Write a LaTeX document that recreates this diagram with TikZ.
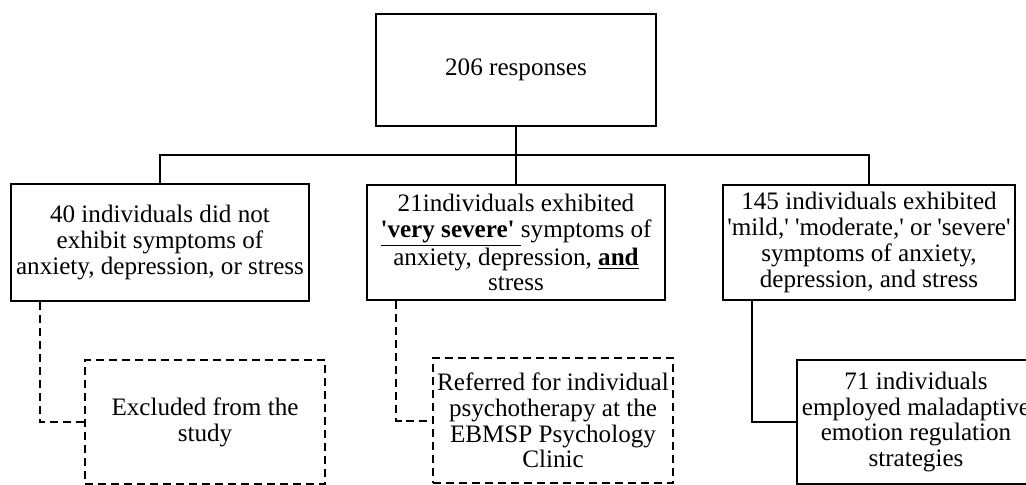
\documentclass[tikz,border=0pt]{standalone}
\usepackage{fontspec}
\setmainfont{Liberation Serif}[Ligatures=TeXOff]
\usepackage{tikz}
\usetikzlibrary{positioning}

\tikzset{
  box/.style={draw, line width=0.04cm, inner sep=0cm},
  dbox/.style={box, dash pattern=on 0.16cm off 0.1cm},
  txt/.style={font=\fontsize{14.3}{14.7}\selectfont, align=center, inner sep=0cm},
  link/.style={line width=0.04cm},
  dlink/.style={link, dash pattern=on 0.16cm off 0.1cm}
}

\begin{document}
\begin{tikzpicture}[x=0.02cm, y=-0.02cm]
\useasboundingbox (0,0) rectangle (1026,484);

% top box
\node[box, minimum width=5.6cm, minimum height=2.24cm] (resp) at (516,70) {};
\node[txt] (resptxt) at (resp.center) {206 responses};

% second row
\node[box, minimum width=5.96cm, minimum height=2.34cm] (no40) at (160,242.5) {};
\node[txt] (no40txt) at (no40.center) {40 individuals did not\\
  exhibit symptoms of\\ anxiety, depression, or stress};

\node[box, minimum width=5.96cm, minimum height=2.3cm] (no21) at (516,242.5) {};
\node[txt] (no21txt) at (no21.center) {21individuals exhibited\\
  \underline{\textbf{'very severe' }}symptoms of\\
  anxiety, depression, \underline{\textbf{and}}\\ stress};

\node[box, minimum width=5.84cm, minimum height=2.3cm] (no145) at (869,242.5) {};
\node[txt] (no145txt) at (no145.center) {145 individuals exhibited\\
  'mild,' 'moderate,' or 'severe'\\ symptoms of anxiety,\\ depression, and stress};

% third row
\node[dbox, minimum width=4.8cm, minimum height=2.48cm] (excl) at (205,422) {};
\node[txt] (excltxt) at (excl.center) {Excluded from the\\ study};

\node[dbox, minimum width=4.8cm, minimum height=2.5cm] (refer) at (553,420.5) {};
\node[txt] (refertxt) at (refer.center) {Referred for individual\\
  psychotherapy at the\\ EBMSP Psychology\\ Clinic};

\node[box, minimum width=4.76cm, minimum height=2.48cm] (no71) at (916,422) {};
\node[txt] (no71txt) at (no71.center) {71 individuals\\
  employed maladaptive\\ emotion regulation\\ strategies};

% connectors
\coordinate (bus) at (516,155);
\draw[link] (resp.south) -- (no21.north);
\draw[link] (no40.north) |- (bus) -| (no145.north);
\draw[dlink] ([xshift=0.6cm]no40.south west) |- (excl.west);
\draw[dlink] ([xshift=0.6cm]no21.south west) |- (refer.west);
\draw[link] ([xshift=0.6cm]no145.south west) |- (no71.west);
\end{tikzpicture}
\end{document}
